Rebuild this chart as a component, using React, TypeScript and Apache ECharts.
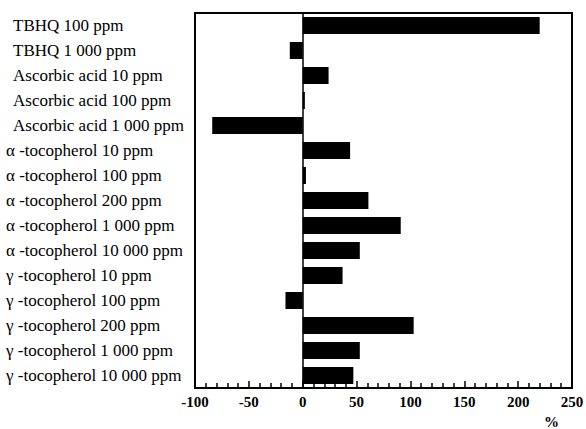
import React, { useEffect, useRef } from "react";
import * as echarts from "echarts";

const categories = [
  "TBHQ 100 ppm",
  "TBHQ 1 000 ppm",
  "Ascorbic acid 10 ppm",
  "Ascorbic acid 100 ppm",
  "Ascorbic acid 1 000 ppm",
  "α -tocopherol 10 ppm",
  "α -tocopherol 100 ppm",
  "α -tocopherol 200 ppm",
  "α -tocopherol 1 000 ppm",
  "α -tocopherol 10 000 ppm",
  "γ -tocopherol 10 ppm",
  "γ -tocopherol 100 ppm",
  "γ -tocopherol 200 ppm",
  "γ -tocopherol 1 000 ppm",
  "γ -tocopherol 10 000 ppm",
];

const values = [220, -12, 24, 2, -84, 44, 3, 61, 91, 53, 37, -16, 103, 53, 47];

const xMin = -100;
const xMax = 250;
const xInterval = 50;

export default function App() {
  const ref = useRef<HTMLDivElement>(null);
  useEffect(() => {
    if (!ref.current) return;
    const chart = echarts.init(ref.current, undefined, { renderer: "svg" });
    chart.setOption({
      animation: false,
      backgroundColor: "#fff",
      grid: {
        left: 195,
        right: 14,
        top: 13,
        bottom: 41,
        outerBoundsMode: "none",
        containLabel: false,
        show: true,
        borderColor: "#000",
        borderWidth: 2,
        backgroundColor: "transparent",
      },
      xAxis: {
        type: "value",
        min: xMin,
        max: xMax,
        interval: xInterval,
        z: 10,
        axisLine: { show: true, onZero: false, lineStyle: { color: "#000", width: 2 } },
        axisTick: { show: true, inside: true, length: 7, lineStyle: { color: "#000", width: 1.5 } },
        minorTick: { show: true, splitNumber: 5, length: 5, lineStyle: { color: "#000", width: 1.5 } },
        splitLine: { show: false },
        axisLabel: {
          color: "#000",
          fontFamily: "Liberation Serif",
          fontWeight: "bold",
          fontSize: 15,
          margin: 6,
        },
      },
      yAxis: {
        type: "category",
        data: categories,
        inverse: true,
        axisLine: { show: false },
        axisTick: { show: false },
        axisLabel: {
          color: "#000",
          fontFamily: "Liberation Serif",
          fontSize: 17,
          align: "left",
          margin: 189,
          formatter: (v: string) =>
            v.startsWith("TBHQ") || v.startsWith("Ascorbic") ? `{p|${v}}` : `{n|${v}}`,
          rich: {
            p: { fontFamily: "Liberation Serif", fontSize: 17, color: "#000", padding: [0, 0, 0, 7] },
            n: { fontFamily: "Liberation Serif", fontSize: 17, color: "#000" },
          },
        },
      },
      series: [
        {
          type: "bar",
          data: values,
          barWidth: 17,
          itemStyle: { color: "#000" },
          markLine: {
            silent: true,
            symbol: "none",
            label: { show: false },
            lineStyle: { color: "#000", width: 1.5, type: "solid" },
            data: [{ xAxis: 0 }],
          },
        },
      ],
      graphic: [
        {
          type: "text",
          left: 544,
          top: 414,
          style: {
            text: "%",
            fill: "#000",
            font: "bold 15px 'Liberation Serif'",
          },
        },
      ],
    });
    return () => chart.dispose();
  }, []);
  return <div ref={ref} style={{ width: 586, height: 429, position: "absolute", left: 0, top: 0 }} />;
}
